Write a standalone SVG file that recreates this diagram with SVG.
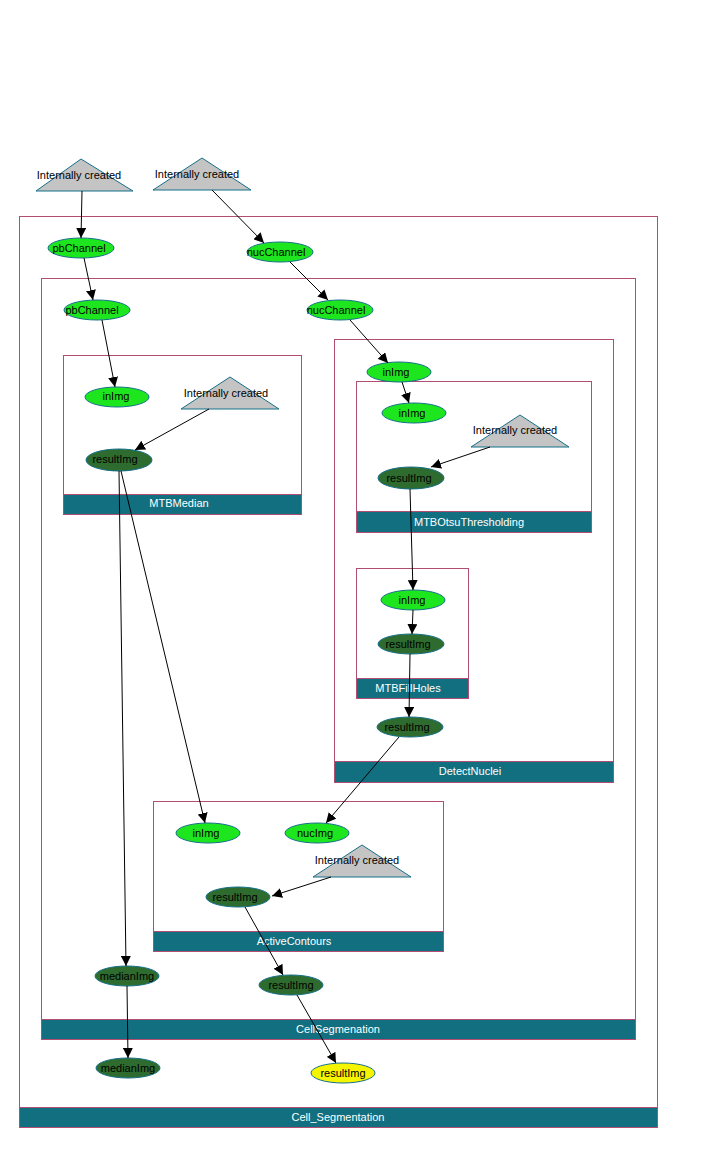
<svg xmlns="http://www.w3.org/2000/svg" width="702" height="1173" viewBox="0 0 702 1173">
<defs>
<marker id="ah" viewBox="0 0 10 10" refX="10" refY="5" markerWidth="10" markerHeight="10" markerUnits="userSpaceOnUse" orient="auto">
<path d="M0,0 L10,5 L0,10 Z" fill="#000"/>
</marker>
<style>
.box{fill:#fff;stroke:#b24d74;stroke-width:1}
.bar{fill:#116f80;stroke:#b24d74;stroke-width:1}
.bt{font-family:"Liberation Sans",Arial,sans-serif;font-size:11px;fill:#fff;text-anchor:middle;dominant-baseline:central}
.t{font-family:"Liberation Sans",Arial,sans-serif;font-size:11px;fill:#000;text-anchor:middle;dominant-baseline:central}
.g{fill:#1ee61e;stroke:#16708a;stroke-width:1}
.d{fill:#2e6b2e;stroke:#16708a;stroke-width:1}
.y{fill:#f5f500;stroke:#16708a;stroke-width:1}
.tri{fill:#c4c4c4;stroke:#16708a;stroke-width:1}
.e{stroke:#000;stroke-width:1;fill:none;marker-end:url(#ah)}
</style>
</defs>
<g id="Cell_Segmentation">
<rect class="box" x="19.5" y="216.5" width="638" height="911"/>
<rect class="bar" x="19.5" y="1107.5" width="638" height="20"/>
<text class="bt" x="338" y="1117">Cell_Segmentation</text>
</g>
<g id="CellSegmenation">
<rect class="box" x="41.5" y="278.5" width="594" height="761"/>
<rect class="bar" x="41.5" y="1019.5" width="594" height="20"/>
<text class="bt" x="338" y="1029">CellSegmenation</text>
</g>
<g id="MTBMedian">
<rect class="box" x="63.5" y="355.5" width="238" height="159"/>
<rect class="bar" x="63.5" y="494.5" width="238" height="20"/>
<text class="bt" x="179" y="503">MTBMedian</text>
</g>
<g id="DetectNuclei">
<rect class="box" x="334.5" y="339.5" width="279" height="443"/>
<rect class="bar" x="334.5" y="761.5" width="279" height="21"/>
<text class="bt" x="470" y="771">DetectNuclei</text>
</g>
<g id="MTBOtsuThresholding">
<rect class="box" x="356.5" y="381.5" width="235" height="151"/>
<rect class="bar" x="356.5" y="511.5" width="235" height="21"/>
<text class="bt" x="469" y="522">MTBOtsuThresholding</text>
</g>
<g id="MTBFillHoles">
<rect class="box" x="356.5" y="568.5" width="112" height="130"/>
<rect class="bar" x="356.5" y="678.5" width="112" height="20"/>
<text class="bt" x="408" y="688">MTBFillHoles</text>
</g>
<g id="ActiveContours">
<rect class="box" x="153.5" y="801.5" width="290" height="150"/>
<rect class="bar" x="153.5" y="931.5" width="290" height="20"/>
<text class="bt" x="294" y="941">ActiveContours</text>
</g>

<g id="tri1"><polygon class="tri" points="81,159 133,191 36,191"/><text class="t" x="79" y="175">Internally created</text></g>
<g id="tri2"><polygon class="tri" points="202,158 251,190 153,190"/><text class="t" x="197" y="174">Internally created</text></g>
<g id="pbChannel_outer"><ellipse class="g" cx="81" cy="248" rx="33" ry="10"/><text class="t" x="79" y="248">pbChannel</text></g>
<g id="nucChannel_outer"><ellipse class="g" cx="280" cy="252" rx="33" ry="10"/><text class="t" x="276" y="252">nucChannel</text></g>
<g id="pbChannel_inner"><ellipse class="g" cx="97" cy="310" rx="33" ry="10"/><text class="t" x="92" y="310">pbChannel</text></g>
<g id="nucChannel_inner"><ellipse class="g" cx="340" cy="310" rx="33" ry="10"/><text class="t" x="336" y="310">nucChannel</text></g>
<g id="median_inImg"><ellipse class="g" cx="117" cy="397" rx="32" ry="10"/><text class="t" x="116" y="396">inImg</text></g>
<g id="median_tri"><polygon class="tri" points="230,377 279,409 181,409"/><text class="t" x="226" y="393">Internally created</text></g>
<g id="median_resultImg"><ellipse class="d" cx="119" cy="460" rx="33" ry="11"/><text class="t" x="115" y="459">resultImg</text></g>
<g id="dn_inImg"><ellipse class="g" cx="399" cy="372" rx="32" ry="10"/><text class="t" x="396" y="372">inImg</text></g>
<g id="otsu_inImg"><ellipse class="g" cx="414" cy="413" rx="32" ry="10"/><text class="t" x="412" y="413">inImg</text></g>
<g id="otsu_tri"><polygon class="tri" points="520,415 569,447 471,447"/><text class="t" x="515" y="430">Internally created</text></g>
<g id="otsu_resultImg"><ellipse class="d" cx="411" cy="478" rx="33" ry="11"/><text class="t" x="409" y="478">resultImg</text></g>
<g id="fh_inImg"><ellipse class="g" cx="413" cy="600" rx="32" ry="10"/><text class="t" x="412" y="600">inImg</text></g>
<g id="fh_resultImg"><ellipse class="d" cx="411" cy="644" rx="33" ry="10"/><text class="t" x="408" y="644">resultImg</text></g>
<g id="dn_resultImg"><ellipse class="d" cx="410" cy="727" rx="33" ry="10"/><text class="t" x="407" y="727">resultImg</text></g>
<g id="ac_inImg"><ellipse class="g" cx="208" cy="833" rx="32" ry="10"/><text class="t" x="206" y="833">inImg</text></g>
<g id="ac_nucImg"><ellipse class="g" cx="317" cy="833" rx="32" ry="10"/><text class="t" x="315" y="833">nucImg</text></g>
<g id="ac_tri"><polygon class="tri" points="362,845 411,877 313,877"/><text class="t" x="357" y="860">Internally created</text></g>
<g id="ac_resultImg"><ellipse class="d" cx="238" cy="897" rx="32" ry="10"/><text class="t" x="235" y="897">resultImg</text></g>
<g id="cs_medianImg"><ellipse class="d" cx="127" cy="976" rx="32" ry="10"/><text class="t" x="127" y="976">medianImg</text></g>
<g id="cs_resultImg"><ellipse class="d" cx="291" cy="985" rx="32" ry="10"/><text class="t" x="291" y="985">resultImg</text></g>
<g id="out_medianImg"><ellipse class="d" cx="128" cy="1068" rx="32" ry="10"/><text class="t" x="128" y="1068">medianImg</text></g>
<g id="out_resultImg"><ellipse class="y" cx="343" cy="1073" rx="32" ry="10"/><text class="t" x="343" y="1073">resultImg</text></g>

<g id="connectors">
<line class="e" x1="82" y1="191" x2="81" y2="238"/>
<line class="e" x1="212" y1="190" x2="264" y2="243"/>
<line class="e" x1="84" y1="258" x2="93" y2="300"/>
<line class="e" x1="290" y1="262" x2="328" y2="300"/>
<line class="e" x1="102" y1="320" x2="115" y2="387"/>
<line class="e" x1="350" y1="320" x2="388" y2="363"/>
<line class="e" x1="209" y1="409" x2="135" y2="450"/>
<line class="e" x1="119" y1="471" x2="126" y2="966"/>
<line class="e" x1="121" y1="471" x2="205" y2="823"/>
<line class="e" x1="402" y1="382" x2="409" y2="403"/>
<line class="e" x1="490" y1="447" x2="431" y2="467"/>
<line class="e" x1="410" y1="489" x2="413" y2="590"/>
<line class="e" x1="413" y1="610" x2="412" y2="634"/>
<line class="e" x1="410" y1="654" x2="409" y2="717"/>
<line class="e" x1="399" y1="737" x2="326" y2="823"/>
<line class="e" x1="331" y1="877" x2="272" y2="896"/>
<line class="e" x1="245" y1="907" x2="283" y2="975"/>
<line class="e" x1="127" y1="986" x2="128" y2="1058"/>
<line class="e" x1="297" y1="995" x2="336" y2="1063"/>
</g>
</svg>
